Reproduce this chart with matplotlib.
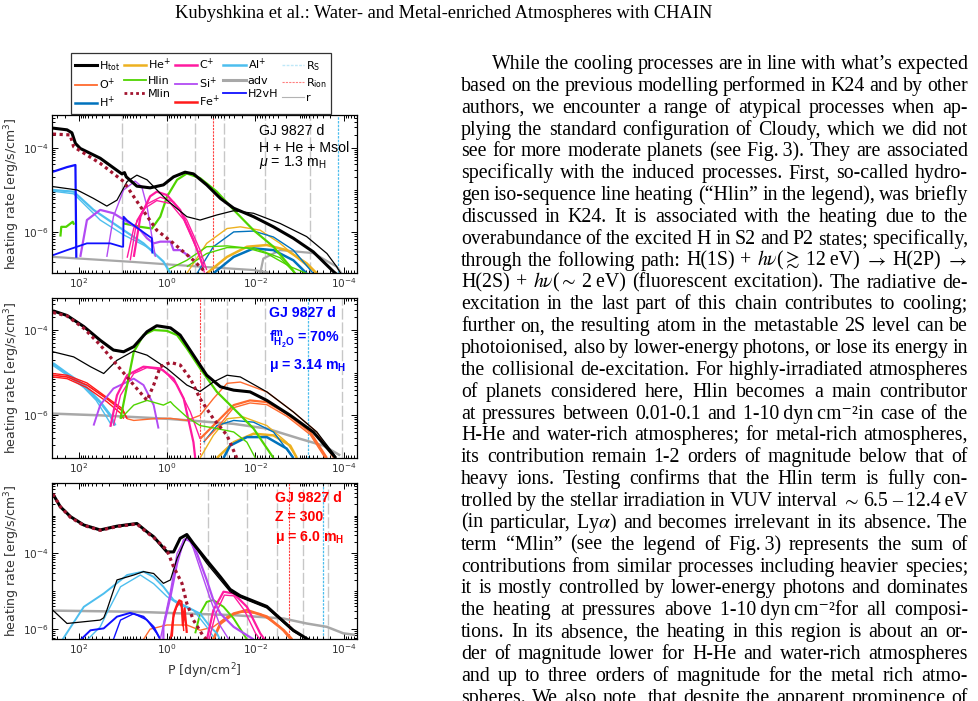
import numpy as np
import matplotlib
matplotlib.use('Agg')
import matplotlib.pyplot as plt
from matplotlib.lines import Line2D
from matplotlib.ticker import FixedLocator, LogLocator, NullFormatter

W, H = 979, 701

# all curves: pairs of (log10 P [dyn/cm2], log10 heating rate [erg/s/cm3])

# ---- panel 1 : H + He + Msol ----
P1_TOT = [(2.58, -3.54), (2.26, -3.58), (2.15, -3.65), (2.07, -3.90), (1.96, -4.02), (1.51, -4.25),
          (1.02, -4.62), (0.96, -4.59), (0.92, -4.69), (0.68, -4.91), (0.38, -4.95), (0.08, -4.88),
          (-0.15, -4.69), (-0.41, -4.58), (-0.60, -4.62), (-0.90, -4.88), (-1.21, -5.20), (-1.51, -5.43),
          (-1.96, -5.63), (-2.41, -5.87), (-2.86, -6.14), (-3.31, -6.46), (-3.77, -6.93), (-3.85, -7.0)]
P1_TOT_THIN = [(2.58, -4.92), (2.03, -5.00), (1.66, -5.20), (1.36, -5.38), (1.13, -5.24), (0.90, -4.80),
               (0.68, -4.65), (0.45, -4.76), (0.00, -5.24), (-0.45, -5.63), (-0.75, -5.71), (-1.13, -5.59),
               (-1.51, -5.49), (-1.96, -5.55), (-2.56, -5.79), (-3.16, -6.10), (-3.62, -6.50), (-3.84, -6.81),
               (-3.95, -7.0)]
P1_MLIN = [(2.58, -3.68), (2.19, -3.70), (2.11, -3.98), (1.51, -4.37), (0.98, -4.80), (0.60, -5.39),
           (0.23, -5.95), (-0.15, -6.26), (-0.60, -6.66), (-0.90, -6.97)]
P1_H2VH_A = [(2.58, -4.57), (2.26, -4.46), (2.07, -4.41), (2.05, -6.60)]
P1_H2VH_B = [(2.58, -6.54), (2.26, -6.42), (1.81, -6.26), (1.28, -6.26), (1.02, -6.34), (0.99, -6.34),
             (0.98, -5.63), (0.90, -5.72), (0.53, -6.00), (0.34, -6.14), (0.33, -6.50)]
P1_AL_A = [(2.58, -5.00), (2.11, -5.04), (1.66, -5.47), (0.98, -5.95), (0.53, -6.26), (0.08, -6.69),
           (-0.08, -6.97)]
P1_AL_B = [(2.58, -5.03), (2.11, -5.09), (1.51, -5.71), (0.98, -6.06), (0.53, -6.30), (0.29, -6.45),
           (0.28, -6.55)]
P1_HLIN_A = [(2.41, -6.10), (2.39, -5.87), (2.28, -5.87), (2.13, -5.75), (2.10, -5.82)]
P1_HLIN_B = [(0.98, -5.79), (0.60, -5.87), (0.34, -5.91), (0.15, -5.63), (0.00, -5.16), (-0.23, -4.76),
             (-0.45, -4.61), (-0.75, -4.72), (-1.13, -5.04), (-1.51, -5.47), (-1.96, -5.95), (-2.41, -6.34),
             (-2.79, -6.81), (-2.90, -6.97)]
P1_HLIN_C = [(0.00, -6.89), (-0.45, -6.66), (-0.90, -6.34), (-1.36, -6.32), (-1.81, -6.37), (-2.26, -6.50),
             (-2.79, -6.81), (-3.16, -6.97)]
P1_HLIN_D = [(-0.45, -6.81), (-0.90, -6.50), (-1.36, -6.36), (-1.96, -6.37), (-2.56, -6.60), (-2.90, -6.97)]
P1_SI_A = [(1.96, -6.58), (1.81, -5.71), (1.51, -5.47), (1.21, -5.55), (0.90, -5.75), (0.60, -5.95),
           (0.45, -6.14), (0.30, -6.26), (0.15, -6.22), (-0.08, -6.22), (-0.15, -6.42), (-0.30, -6.42),
           (-0.53, -6.58)]
P1_SI_B = [(1.36, -6.58), (1.21, -5.63), (0.98, -5.00), (0.72, -4.79), (0.57, -4.92), (0.45, -5.39),
           (0.34, -6.10), (0.26, -6.58)]
P1_C_A = [(0.83, -6.66), (0.68, -5.72), (0.45, -5.33), (0.15, -5.17), (-0.15, -5.28), (-0.45, -5.71),
          (-0.75, -6.42), (-0.90, -6.89)]
P1_C_B = [(0.75, -6.58), (0.60, -5.63), (0.38, -5.15), (0.23, -5.04), (0.00, -5.12), (-0.30, -5.47),
          (-0.60, -6.18), (-0.83, -6.82)]
P1_C_C = [(0.90, -6.60), (0.75, -5.90), (0.53, -5.45), (0.23, -5.25), (-0.08, -5.32), (-0.38, -5.70),
          (-0.68, -6.40), (-0.85, -6.95)]
P1_HE_A = [(-0.45, -6.97), (-0.90, -6.26), (-1.36, -5.91), (-1.66, -5.87), (-2.11, -5.95), (-2.56, -6.26),
           (-3.01, -6.66), (-3.39, -6.97)]
P1_HE_B = [(-0.90, -6.97), (-1.36, -6.58), (-1.81, -6.34), (-2.26, -6.30), (-2.71, -6.42), (-3.16, -6.73),
           (-3.39, -6.97)]
P1_H_A = [(-0.68, -6.97), (-1.05, -6.34), (-1.51, -5.99), (-1.96, -5.97), (-2.41, -6.11), (-2.86, -6.42),
          (-3.31, -6.97)]
P1_H_B = [(-1.05, -6.97), (-1.51, -6.58), (-1.96, -6.38), (-2.41, -6.42), (-2.86, -6.66), (-3.16, -6.97)]
P1_ADV_A = [(2.58, -6.58), (0.75, -6.70), (-0.75, -6.81), (-1.96, -6.89), (-2.30, -6.95)]
P1_ADV_B = [(-2.11, -6.97), (-2.18, -6.62), (-2.56, -6.42), (-3.31, -6.49), (-3.84, -6.81), (-3.95, -6.97)]
P1_VGREY = [1.01, 0.0, -0.64, -1.30, -2.22, -3.24]
P1_RION = [-1.05]
P1_RS = [-3.86]

# ---- panel 2 : water-rich ----
P2_TOT = [(2.58, -3.55), (2.26, -3.66), (1.88, -3.92), (1.51, -4.24), (1.21, -4.47), (0.98, -4.51),
          (0.75, -4.39), (0.45, -4.04), (0.23, -3.90), (-0.08, -3.95), (-0.30, -4.12), (-0.60, -4.59),
          (-0.90, -5.06), (-1.21, -5.33), (-1.51, -5.41), (-1.88, -5.45), (-2.26, -5.65), (-2.79, -6.00),
          (-3.31, -6.39), (-3.77, -6.94), (-3.82, -7.0)]
P2_TOT_THIN = [(2.58, -4.51), (2.11, -4.63), (1.73, -4.86), (1.43, -5.02), (1.13, -4.71), (0.75, -4.49),
               (0.45, -4.59), (0.00, -4.90), (-0.45, -5.29), (-0.75, -5.44), (-1.05, -5.22), (-1.36, -5.06),
               (-1.66, -5.10), (-2.26, -5.45), (-2.86, -5.92), (-3.39, -6.39), (-3.77, -6.90), (-3.83, -7.0)]
P2_MLIN = [(2.58, -3.59), (2.26, -3.67), (1.88, -3.96), (1.51, -4.35), (1.13, -4.82), (0.75, -5.29),
           (0.45, -5.65), (0.30, -5.29), (0.15, -4.86), (-0.08, -4.76), (-0.30, -4.82), (-0.53, -5.14),
           (-0.75, -5.61), (-1.05, -6.08), (-1.36, -6.47), (-1.58, -7.0)]
P2_HLIN_A = [(1.05, -6.08), (0.90, -5.29), (0.75, -4.51), (0.53, -4.12), (0.30, -4.00), (0.00, -4.02),
             (-0.23, -4.12), (-0.45, -4.43), (-0.75, -4.90), (-1.13, -5.45), (-1.51, -5.84), (-1.96, -6.31),
             (-2.41, -7.0)]
P2_HLIN_B = [(1.05, -6.08), (0.75, -5.76), (0.45, -5.65), (0.08, -5.76), (-0.08, -5.68), (-0.15, -5.76),
             (-0.45, -6.04), (-0.75, -6.24), (-1.13, -6.31), (-1.51, -6.39), (-1.81, -6.63), (-2.0, -7.0)]
P2_AL_A = [(2.58, -4.78), (2.26, -5.02), (1.88, -5.29), (1.51, -5.69), (1.28, -6.00), (1.17, -6.24)]
P2_AL_B = [(2.58, -4.83), (2.26, -5.06), (1.88, -5.35), (1.60, -5.65), (1.36, -6.05), (1.25, -6.24)]
P2_FE_A = [(2.58, -5.06), (2.26, -5.10), (1.81, -5.29), (1.36, -5.61), (0.98, -5.92), (0.90, -6.08)]
P2_FE_B = [(2.58, -5.10), (2.26, -5.14), (1.81, -5.35), (1.36, -5.68), (1.05, -5.95), (0.98, -6.08)]
P2_FE_C = [(2.58, -5.02), (2.26, -5.06), (1.81, -5.24), (1.40, -5.55), (1.00, -5.85), (0.95, -6.00)]
P2_SI = [(1.66, -6.24), (1.51, -5.76), (1.21, -5.37), (0.75, -5.14), (0.53, -5.29), (0.30, -5.76),
         (0.19, -6.31)]
P2_C_A = [(1.28, -6.27), (1.13, -5.53), (0.90, -5.06), (0.53, -4.86), (0.15, -4.90), (-0.15, -5.14),
          (-0.38, -5.61), (-0.60, -6.63), (-0.64, -7.0)]
P2_C_B = [(1.21, -6.24), (1.05, -5.53), (0.75, -5.02), (0.45, -4.88), (0.08, -4.94), (-0.23, -5.29),
          (-0.53, -5.92), (-0.75, -6.55)]
P2_O_A = [(0.90, -6.08), (0.75, -6.12), (0.30, -6.08), (-0.08, -6.07), (-0.45, -6.12), (-0.75, -6.00),
          (-1.05, -5.61), (-1.36, -5.25), (-1.66, -5.22), (-2.26, -5.45), (-2.86, -5.92), (-3.39, -6.39),
          (-3.77, -7.0)]
P2_O_B = [(-0.75, -6.55), (-1.05, -6.24), (-1.51, -5.76), (-1.88, -5.65), (-2.26, -5.69), (-2.71, -5.96),
          (-3.24, -6.39), (-3.62, -7.0)]
P2_O_C = [(-0.85, -6.60), (-1.13, -6.30), (-1.51, -5.82), (-1.88, -5.71), (-2.26, -5.75), (-2.71, -6.02),
          (-3.24, -6.45), (-3.58, -7.0)]
P2_HE_A = [(-0.75, -7.0), (-1.05, -6.47), (-1.36, -6.08), (-1.73, -6.04), (-2.26, -6.24), (-2.71, -6.63),
           (-2.94, -7.0)]
P2_HE_B = [(-1.13, -7.0), (-1.51, -6.63), (-1.96, -6.43), (-2.41, -6.47), (-2.79, -6.71), (-2.94, -7.0)]
P2_H_A = [(-0.83, -6.63), (-1.13, -6.24), (-1.51, -6.12), (-1.96, -6.16), (-2.41, -6.39), (-2.86, -7.0)]
P2_H_B = [(-1.28, -7.0), (-1.43, -6.71), (-1.81, -6.51), (-2.26, -6.51), (-2.71, -6.78), (-2.86, -7.0)]
P2_ADV = [(2.58, -5.96), (1.51, -6.00), (0.00, -6.08), (-1.51, -6.20), (-2.26, -6.31), (-3.01, -6.55),
          (-3.54, -6.71), (-3.92, -6.94)]
P2_VGREY = [0.0, -0.83, -1.36, -2.21, -3.95]
P2_RION = [-0.74]
P2_RS = [-3.20]

# ---- panel 3 : metal-rich, Z = 300 ----
P3_TOT = [(2.58, -2.43), (2.41, -2.77), (2.18, -3.03), (1.88, -3.25), (1.51, -3.38), (1.13, -3.28),
          (0.68, -3.21), (0.45, -3.43), (0.30, -3.56), (0.00, -3.96), (-0.15, -3.96), (-0.30, -3.60),
          (-0.45, -3.50), (-0.60, -3.74), (-0.90, -4.18), (-1.21, -4.62), (-1.43, -4.95), (-1.66, -5.12),
          (-2.26, -5.40), (-2.86, -6.03), (-3.30, -6.35)]
P3_TOT_THIN = [(2.58, -5.50), (2.26, -5.85), (1.51, -5.76), (1.43, -5.70), (1.36, -5.50), (1.13, -4.70),
               (0.75, -4.57), (0.53, -4.48), (0.30, -4.53), (0.08, -4.79), (-0.08, -4.70), (-0.23, -4.13),
               (-0.45, -3.56), (-0.68, -3.90), (-0.90, -4.26), (-1.21, -4.70), (-1.43, -5.01), (-1.66, -5.16),
               (-2.26, -5.44), (-2.86, -6.06), (-3.28, -6.35)]
P3_MLIN = [(2.58, -2.43), (2.41, -2.77), (2.18, -3.05), (1.88, -3.26), (1.51, -3.39), (1.13, -3.29),
           (0.68, -3.22), (0.45, -3.45), (0.30, -3.58), (0.00, -3.91), (-0.15, -4.35), (-0.34, -4.79),
           (-0.45, -5.32), (-0.60, -5.76), (-0.83, -6.20), (-0.90, -6.27)]
P3_AL_A = [(2.37, -6.29), (1.88, -5.41), (1.43, -5.06), (0.90, -4.57), (0.53, -4.48), (0.30, -4.62),
           (0.08, -4.88), (-0.15, -5.23), (-0.45, -5.41), (-0.75, -5.59), (-0.98, -5.94), (-1.13, -6.11),
           (-1.20, -6.27)]
P3_AL_B = [(1.81, -6.29), (1.51, -5.94), (1.36, -5.58), (1.05, -4.88), (0.60, -4.57), (0.30, -4.80),
           (0.00, -5.14), (-0.30, -5.37), (-0.60, -5.50), (-0.90, -5.94), (-1.05, -6.20)]
P3_H2VH_A = [(1.96, -6.29), (1.73, -6.03), (1.43, -5.98), (1.13, -5.67), (0.83, -5.57), (0.53, -5.67),
             (0.30, -5.94), (0.15, -6.27)]
P3_H2VH_B = [(1.21, -6.27), (1.05, -5.76), (0.75, -5.59), (0.45, -5.76), (0.23, -6.11), (0.15, -6.27)]
P3_ADV = [(2.58, -5.51), (0.75, -5.54), (-1.51, -5.63), (-2.64, -5.72), (-3.16, -5.85), (-3.62, -5.94),
          (-3.99, -6.11), (-4.25, -6.15)]
P3_FE_A = [(-0.11, -6.20), (-0.15, -5.60), (-0.23, -5.35), (-0.28, -5.24), (-0.33, -5.27), (-0.36, -5.90),
           (-0.40, -5.45), (-0.45, -6.10)]
P3_FE_B = [(-0.08, -6.27), (-0.13, -5.75), (-0.22, -5.42), (-0.29, -5.30), (-0.34, -5.45), (-0.38, -6.05)]
P3_O_A = [(0.53, -6.27), (0.38, -6.00), (0.00, -5.89), (-0.45, -5.89), (-0.75, -6.03), (-1.05, -5.94),
          (-1.36, -5.67), (-1.66, -5.54), (-2.11, -5.59), (-2.56, -5.94), (-2.79, -6.27)]
P3_O_B = [(-1.05, -6.27), (-1.21, -5.85), (-1.51, -5.59), (-1.81, -5.50), (-2.26, -5.67), (-2.64, -6.03),
          (-2.83, -6.27)]
P3_HLIN = [(-0.64, -6.11), (-0.75, -5.59), (-0.90, -5.28), (-1.05, -5.23), (-1.28, -5.41), (-1.51, -5.72),
           (-1.81, -6.27)]
P3_SI_A = [(0.08, -6.27), (0.08, -5.94), (-0.08, -5.14), (-0.23, -4.26), (-0.38, -3.65), (-0.49, -3.60),
           (-0.68, -4.00), (-0.90, -4.70), (-1.05, -5.23), (-1.21, -5.59), (-1.51, -5.94), (-1.96, -6.27)]
P3_SI_B = [(0.15, -6.27), (-0.08, -5.00), (-0.23, -4.00), (-0.40, -3.62), (-0.55, -3.70), (-0.75, -4.40),
           (-0.98, -5.20), (-1.20, -5.90), (-1.40, -6.27)]
P3_C_A = [(-0.90, -6.29), (-1.05, -5.50), (-1.28, -5.01), (-1.51, -5.06), (-1.81, -5.41), (-2.11, -6.11),
          (-2.22, -6.29)]
P3_C_B = [(-0.95, -6.29), (-1.10, -5.60), (-1.30, -5.10), (-1.51, -5.12), (-1.75, -5.50), (-2.00, -6.10),
          (-2.12, -6.29)]
P3_VGREY = [-0.92, -1.81, -2.49, -3.07, -3.64]
P3_RION = [-2.77]
P3_RS = [-3.52]

# y limits (log10) of the three panels
YLIMS = [(-6.96, -3.23), (-7.0, -3.25), (-6.26, -2.14)]

LEGEND_LABELS = ['H$_{\\rm tot}$', 'O$^{+}$', 'H$^{+}$', 'He$^{+}$', 'Hlin', 'Mlin', 'C$^{+}$', 'Si$^{+}$',
                 'Fe$^{+}$', 'Al$^{+}$', 'adv', 'H2vH', 'R$_{\\rm S}$', 'R$_{\\rm ion}$', 'r']

HEADER = 'Kubyshkina et al.: Water- and Metal-enriched Atmospheres with CHAIN'

BODY_LINES = [
    'While the cooling processes are in line with what\u2019s expected',
    'based on the previous modelling performed in K24 and by other',
    'authors, we encounter a range of atypical processes when ap-',
    'plying the standard configuration of Cloudy, which we did not',
    'see for more moderate planets (see Fig.\u20093). They are associated',
    'specifically with the induced processes. First, so-called hydro-',
    'gen iso-sequence line heating (\u201cHlin\u201d in the legend), was briefly',
    'discussed in K24. It is associated with the heating due to the',
    'overabundance of the excited H in S2 and P2 states; specifically,',
    'through the following path: H(1S) + $h\\nu$($\\gtrsim$ 12\u2009eV) $\\rightarrow$ H(2P) $\\rightarrow$',
    'H(2S) + $h\\nu$($\\sim$ 2\u2009eV) (fluorescent excitation). The radiative de-',
    'excitation in the last part of this chain contributes to cooling;',
    'further on, the resulting atom in the metastable 2S level can be',
    'photoionised, also by lower-energy photons, or lose its energy in',
    'the collisional de-excitation. For highly-irradiated atmospheres',
    'of planets considered here, Hlin becomes a main contributor',
    'at pressures between 0.01-0.1 and 1-10\u2009dyn\u2009cm\u207b\u00b2in case of the',
    'H-He and water-rich atmospheres; for metal-rich atmospheres,',
    'its contribution remain 1-2 orders of magnitude below that of',
    'heavy ions. Testing confirms that the Hlin term is fully con-',
    'trolled by the stellar irradiation in VUV interval $\\sim$ 6.5 \u2013 12.4\u2009eV',
    '(in particular, Ly$\\alpha$) and becomes irrelevant in its absence. The',
    'term \u201cMlin\u201d (see the legend of Fig.\u20093) represents the sum of',
    'contributions from similar processes including heavier species;',
    'it is mostly controlled by lower-energy photons and dominates',
    'the heating at pressures above 1-10\u2009dyn\u2009cm\u207b\u00b2for all composi-',
    'tions. In its absence, the heating in this region is about an or-',
    'der of magnitude lower for H-He and water-rich atmospheres',
    'and up to three orders of magnitude for the metal rich atmo-',
    'spheres. We also note, that despite the apparent prominence of',
]

# colours (MATLAB-like palette of the original figure)
C_TOT, C_HE, C_C, C_AL = 'k', '#EDB120', '#FF1AA0', '#4DBEEE'
C_O, C_HLIN, C_SI, C_ADV = '#FF6A2E', '#4FD400', '#B24BF3', '#A8A8A8'
C_H, C_MLIN, C_FE, C_H2VH = '#0072BD', '#A2142F', '#FF1A1A', '#1010FF'
DOT = (0, (1, 1.1))

plt.rcParams['font.family'] = ['DejaVu Sans']
plt.rcParams['mathtext.fontset'] = 'custom'
plt.rcParams['mathtext.rm'] = 'Liberation Sans'
plt.rcParams['mathtext.it'] = 'Liberation Sans:italic'
plt.rcParams['mathtext.bf'] = 'Liberation Sans:bold'

fig = plt.figure(figsize=(W / 100, H / 100), dpi=100)
fig.patch.set_facecolor('white')


def curve(ax, pts, color, lw=1.0, ls='-'):
    a = np.array(pts)
    ax.plot(10 ** a[:, 0], 10 ** a[:, 1], color=color, lw=lw, ls=ls, solid_capstyle='butt')


panel_curves = [
    [(P1_ADV_A, C_ADV, 1.6), (P1_ADV_B, C_ADV, 1.6),
     (P1_HE_A, C_HE, 1.0), (P1_HE_B, C_HE, 1.8), (P1_H_A, C_H, 1.0), (P1_H_B, C_H, 1.8),
     (P1_HLIN_C, C_HLIN, 1.0), (P1_HLIN_D, C_HLIN, 1.0), (P1_HLIN_A, C_HLIN, 1.6), (P1_HLIN_B, C_HLIN, 1.6),
     (P1_AL_A, C_AL, 1.6), (P1_AL_B, C_AL, 1.0), (P1_SI_A, C_SI, 1.6), (P1_SI_B, C_SI, 1.0),
     (P1_C_A, C_C, 1.0), (P1_C_B, C_C, 1.6), (P1_C_C, C_C, 1.0),
     (P1_H2VH_A, C_H2VH, 1.6), (P1_H2VH_B, C_H2VH, 1.3),
     (P1_TOT_THIN, C_TOT, 0.9), (P1_TOT, C_TOT, 2.2)],
    [(P2_ADV, C_ADV, 1.8),
     (P2_HE_A, C_HE, 1.0), (P2_HE_B, C_HE, 1.8), (P2_H_A, C_H, 1.0), (P2_H_B, C_H, 1.8),
     (P2_O_A, C_O, 1.0), (P2_O_B, C_O, 1.6), (P2_O_C, C_O, 1.0),
     (P2_AL_A, C_AL, 2.0), (P2_AL_B, C_AL, 1.0), (P2_FE_A, C_FE, 1.2), (P2_FE_B, C_FE, 1.0), (P2_FE_C, C_FE, 1.0),
     (P2_SI, C_SI, 1.4), (P2_C_A, C_C, 1.6), (P2_C_B, C_C, 1.0),
     (P2_HLIN_B, C_HLIN, 1.0), (P2_HLIN_A, C_HLIN, 1.6),
     (P2_TOT_THIN, C_TOT, 0.9), (P2_TOT, C_TOT, 2.2)],
    [(P3_ADV, C_ADV, 1.8),
     (P3_O_A, C_O, 1.0), (P3_O_B, C_O, 2.0), (P3_HLIN, C_HLIN, 1.4),
     (P3_AL_A, C_AL, 1.4), (P3_AL_B, C_AL, 1.0), (P3_H2VH_A, C_H2VH, 1.4), (P3_H2VH_B, C_H2VH, 1.0),
     (P3_FE_A, C_FE, 1.6), (P3_FE_B, C_FE, 1.0), (P3_C_A, C_C, 1.6), (P3_C_B, C_C, 1.0),
     (P3_SI_A, C_SI, 1.6), (P3_SI_B, C_SI, 1.0),
     (P3_TOT_THIN, C_TOT, 0.9), (P3_TOT, C_TOT, 2.2)],
]
panel_mlin = [P1_MLIN, P2_MLIN, P3_MLIN]
panel_vlines = [(P1_VGREY, P1_RION, P1_RS), (P2_VGREY, P2_RION, P2_RS), (P3_VGREY, P3_RION, P3_RS)]

# axes boxes in pixels: left, top, right, bottom
boxes = [(52, 115, 357, 273), (52, 298, 357, 458), (52, 483, 357, 639)]
axes = []
for i, (l, t, r, b) in enumerate(boxes):
    ax = fig.add_axes([l / W, 1 - b / H, (r - l) / W, (b - t) / H])
    axes.append(ax)
    ax.set_xscale('log')
    ax.set_yscale('log')
    grey, rion, rs = panel_vlines[i]
    for v in grey:
        ax.axvline(10 ** v, color='0.78', lw=1.0, ls=(0, (8, 2)), zorder=1)
    for v in rion:
        ax.axvline(10 ** v, color='#FF4040', lw=0.8, ls=(0, (2, 1)), zorder=1)
    for v in rs:
        ax.axvline(10 ** v, color=C_AL, lw=0.9, ls=(0, (2, 1)), zorder=1)
    for pts, col, lw in panel_curves[i]:
        curve(ax, pts, col, lw)
    curve(ax, panel_mlin[i], C_MLIN, 2.3, DOT)
    ax.set_xlim(10 ** 2.6, 10 ** -4.3)
    ax.set_ylim(10 ** YLIMS[i][0], 10 ** YLIMS[i][1])
    ax.xaxis.set_major_locator(FixedLocator([1e2, 1e0, 1e-2, 1e-4]))
    ax.xaxis.set_minor_locator(LogLocator(base=10, subs=np.arange(1, 10), numticks=30))
    ax.yaxis.set_major_locator(FixedLocator([1e-6, 1e-4]))
    ax.yaxis.set_minor_locator(LogLocator(base=10, subs=np.arange(1, 10), numticks=30))
    ax.xaxis.set_minor_formatter(NullFormatter())
    ax.yaxis.set_minor_formatter(NullFormatter())
    ax.tick_params(which='both', direction='in', top=True, right=True, labelsize=7.6,
                   labelcolor='#333333', width=0.7, pad=2)
    ax.tick_params(which='major', length=4)
    ax.tick_params(which='minor', length=2)
    for s in ax.spines.values():
        s.set_linewidth(0.9)
    ax.set_ylabel('heating rate [erg/s/cm$^3$]', fontsize=9, color='#333333', math_fontfamily='dejavusans')
    ax.yaxis.set_label_coords(-0.098, 0.5)

axes[2].set_xlabel('P [dyn/cm$^2$]', fontsize=9, color='#333333', math_fontfamily='dejavusans')

# panel annotations
sans = 'Liberation Sans'
a1 = axes[0]
a1.text(0.679, 0.90, 'GJ 9827 d', transform=a1.transAxes, fontsize=10.2, family=sans, va='center')
a1.text(0.679, 0.793, 'H + He + Msol', transform=a1.transAxes, fontsize=10.2, family=sans, va='center')
a1.text(0.679, 0.70, '$\\mu$ = 1.3 m$_{\\rm H}$', transform=a1.transAxes, fontsize=10.2, family=sans,
        va='center')
a2 = axes[1]
for txt, yy in [('GJ 9827 d', 0.906), ('$\\mathbf{f^{m}_{H_2O}}$ = 70%', 0.74),
                ('\u03bc = 3.14 m$_{\\mathbf{H}}$', 0.575)]:
    a2.text(0.711, yy, txt, transform=a2.transAxes, fontsize=10.2, family=sans, weight='bold',
            color='#0000FF', va='center')
a3 = axes[2]
for txt, yy in [('GJ 9827 d', 0.904), ('Z = 300', 0.784), ('\u03bc = 6.0 m$_{\\mathbf{H}}$', 0.65)]:
    a3.text(0.731, yy, txt, transform=a3.transAxes, fontsize=10.2, family=sans, weight='bold',
            color='#FF0000', va='center')

# legend
handles = [
    Line2D([], [], color=C_TOT, lw=2.2), Line2D([], [], color=C_O, lw=1.3), Line2D([], [], color=C_H, lw=1.8),
    Line2D([], [], color=C_HE, lw=1.8), Line2D([], [], color=C_HLIN, lw=1.3),
    Line2D([], [], color=C_MLIN, lw=2.0, ls=DOT),
    Line2D([], [], color=C_C, lw=1.8), Line2D([], [], color=C_SI, lw=1.3), Line2D([], [], color=C_FE, lw=1.8),
    Line2D([], [], color=C_AL, lw=1.8), Line2D([], [], color=C_ADV, lw=2.2), Line2D([], [], color=C_H2VH, lw=1.3),
    Line2D([], [], color='#BFE8F8', lw=1.0, ls=(0, (2, 1))), Line2D([], [], color='#FF8080', lw=0.8, ls=(0, (2, 1))),
    Line2D([], [], color='0.7', lw=0.8),
]
leg = fig.legend(handles, LEGEND_LABELS, ncol=5, loc='upper left', bbox_to_anchor=(71 / W, 1 - 53 / H),
                 bbox_transform=fig.transFigure, fontsize=8, handlelength=2.0, handletextpad=0.2,
                 columnspacing=0.3, labelspacing=0.3, borderpad=0.35, borderaxespad=0, fancybox=False,
                 edgecolor='#333333', framealpha=1)
leg.get_frame().set_linewidth(0.9)
for t in leg.get_texts():
    t.set_math_fontfamily('dejavusans')

# page header and right text column
serif = ['Liberation Serif', 'DejaVu Serif']
fig.text(444 / W, 1 - 18 / H, HEADER, ha='center', va='baseline', fontsize=13.2, family=serif)

TEXT_LEFT, TEXT_RIGHT, INDENT = 461, 968, 31
BASE0, LEAD = 69, 21.85
renderer = fig.canvas.get_renderer()
for i, line in enumerate(BODY_LINES):
    words = line.split(' ')
    texts = [fig.text(0, 0, w, fontsize=14.3, family=serif, math_fontfamily='stix',
                      ha='left', va='baseline') for w in words]
    widths = [t.get_window_extent(renderer).width for t in texts]
    x0 = TEXT_LEFT + (INDENT if i == 0 else 0)
    gap = (TEXT_RIGHT - x0 - sum(widths)) / (len(words) - 1)
    x = x0
    y = BASE0 + i * LEAD
    for t, w in zip(texts, widths):
        t.set_position((x / W, 1 - y / H))
        x += w + gap

fig.savefig('out.png', dpi=100, facecolor='white')
